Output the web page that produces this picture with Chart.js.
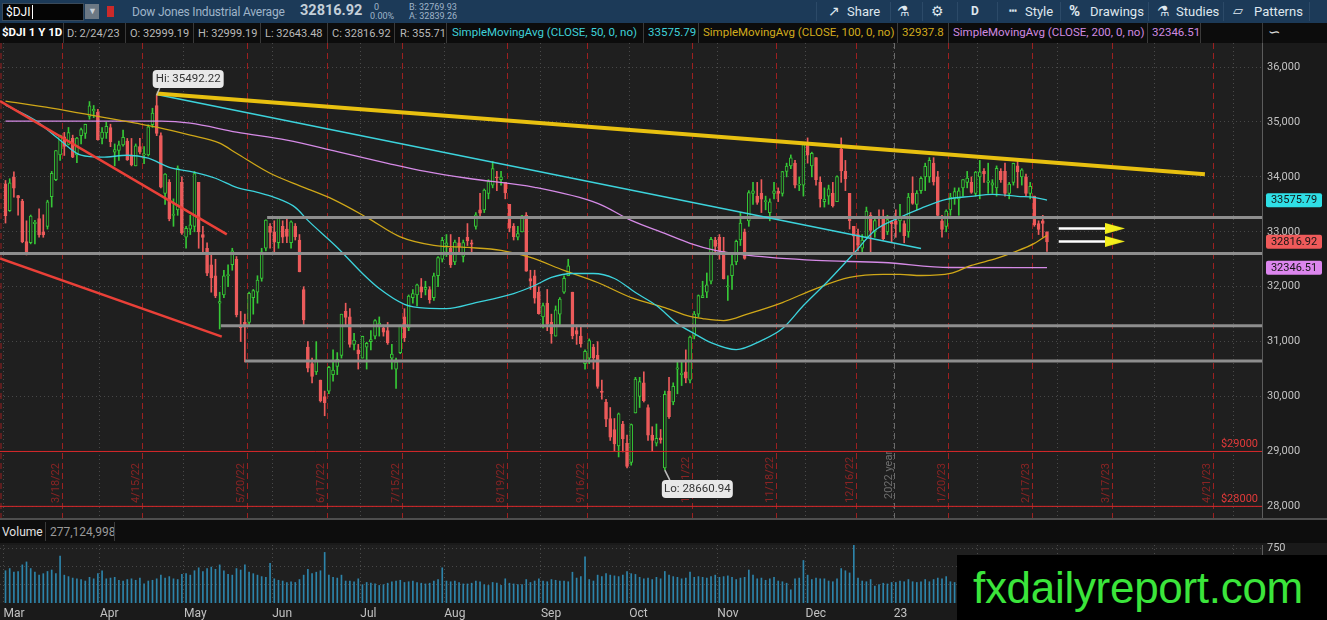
<!DOCTYPE html>
<html>
<head>
<meta charset="utf-8">
<script src="https://cdn.jsdelivr.net/npm/chart.js@4.4.1/dist/chart.umd.min.js"></script>
<style>
  body { margin: 0; background: #121212; width: 1327px; height: 620px; overflow: hidden; position: relative; font-family: Roboto, "Open Sans", sans-serif; }
  .t { position: absolute; white-space: nowrap; line-height: 1; }
  #toolbar { position: absolute; left: 0; top: 0; width: 1327px; height: 23px; background: #1c3a58; }
  #infobar { position: absolute; left: 0; top: 23px; width: 1327px; height: 20px; background: #0c0c0c; font-size: 11px; color: #b9b9b9; }
  .sep { position: absolute; top: 0; width: 1px; height: 20px; background: #3a3a3a; }
  .ma { font-size: 11.5px; }
  .tb { color: #dfe7ee; font-size: 13px; top: 5px; }
  .tsep { position: absolute; top: 2px; width: 1px; height: 19px; background: #2c4a68; }
  #priceWrap { position: absolute; left: 0; top: 43px; width: 1327px; height: 476px; }
  #paneLine { position: absolute; left: 0; top: 518px; width: 1327px; height: 2px; background: #4e4e4e; }
  #volHead { position: absolute; left: 0; top: 520px; width: 1327px; height: 23px; background: #0d0d0d; font-size: 12px; }
  #volWrap { position: absolute; left: 0; top: 543px; width: 1327px; height: 77px; }
  #wm { position: absolute; left: 957px; top: 555px; width: 370px; height: 65px; background: #000; }
  #wm span { position: absolute; left: 16px; top: 8px; color: #3be53b; font: 44px "Liberation Sans", Arial, sans-serif; letter-spacing: -0.3px; }
</style>
</head>
<body>

<div id="toolbar">
  <div class="t" style="left:2px;top:3px;width:80px;height:16px;background:#050505;border:1px solid #3a4a5a;"></div>
  <span class="t" style="left:6px;top:6px;color:#fff;font-size:12px;">$DJI<span style="border-left:1px solid #fff;margin-left:1px;"></span></span>
  <div class="t" style="left:85px;top:4px;width:14px;height:15px;background:#6c7884;"></div>
  <span class="t" style="left:88px;top:7px;color:#c8d0d8;font-size:9px;">&#9660;</span>
  <div class="t" style="left:107px;top:6px;width:7px;height:11px;background:#cc2a2a;"></div>
  <span class="t" style="left:132px;top:6px;color:#9fb4c8;font-size:12px;letter-spacing:-0.2px;">Dow Jones Industrial Average</span>
  <span class="t" style="left:300px;top:4px;color:#c4cfd9;font-size:14.5px;font-weight:bold;">32816.92</span>
  <span class="t" style="left:374px;top:3px;color:#9fb4c8;font-size:9px;">0</span>
  <span class="t" style="left:370px;top:12px;color:#9fb4c8;font-size:9px;">0.00%</span>
  <span class="t" style="left:409px;top:3px;color:#9fb4c8;font-size:9px;">B: 32769.93</span>
  <span class="t" style="left:409px;top:12px;color:#9fb4c8;font-size:9px;">A: 32839.26</span>

  <div class="tsep" style="left:816px"></div>
  <span class="t tb" style="left:828px;top:4px;font-size:14px;">&#8599;</span>
  <span class="t tb" style="left:847px;">Share</span>
  <div class="tsep" style="left:890px"></div>
  <span class="t tb" style="left:897px;top:4px;font-size:14px;">&#9879;</span>
  <div class="tsep" style="left:922px"></div>
  <span class="t tb" style="left:931px;top:4px;font-size:14px;">&#9881;</span>
  <div class="tsep" style="left:957px"></div>
  <span class="t tb" style="left:971px;font-weight:bold;font-size:12px;">D</span>
  <div class="tsep" style="left:997px"></div>
  <span class="t tb" style="left:1009px;top:4px;font-size:13px;">&#9477;</span>
  <span class="t tb" style="left:1025px;">Style</span>
  <div class="tsep" style="left:1060px"></div>
  <span class="t tb" style="left:1069px;top:4px;font-size:15px;font-weight:bold;">%</span>
  <span class="t tb" style="left:1090px;">Drawings</span>
  <div class="tsep" style="left:1148px"></div>
  <span class="t tb" style="left:1157px;top:4px;font-size:14px;">&#9879;</span>
  <span class="t tb" style="left:1176px;">Studies</span>
  <div class="tsep" style="left:1223px"></div>
  <span class="t tb" style="left:1233px;top:4px;font-size:13px;">&#9649;</span>
  <span class="t tb" style="left:1254px;">Patterns</span>
  <div class="tsep" style="left:1309px"></div>
</div>

<div id="infobar">
  <span class="t" style="left:2px;top:4px;color:#fff;font-weight:bold;font-size:11.5px;">$DJI 1 Y 1D</span>
  <div class="sep" style="left:63px"></div>
  <span class="t" style="left:67px;top:5px;">D: 2/24/23</span>
  <div class="sep" style="left:125px"></div>
  <span class="t" style="left:130px;top:5px;">O: 32999.19</span>
  <div class="sep" style="left:193px"></div>
  <span class="t" style="left:198px;top:5px;">H: 32999.19</span>
  <div class="sep" style="left:260px"></div>
  <span class="t" style="left:265px;top:5px;">L: 32643.48</span>
  <div class="sep" style="left:327px"></div>
  <span class="t" style="left:332px;top:5px;">C: 32816.92</span>
  <div class="sep" style="left:394px"></div>
  <span class="t" style="left:400px;top:5px;">R: 355.71</span>
  <div class="sep" style="left:446px"></div>
  <span class="t ma" style="left:452px;top:4px;color:#3fd0d8;">SimpleMovingAvg (CLOSE, 50, 0, no)</span>
  <div class="sep" style="left:643px"></div>
  <span class="t ma" style="left:648px;top:4px;color:#3fd0d8;">33575.79</span>
  <div class="sep" style="left:698px"></div>
  <span class="t ma" style="left:703px;top:4px;color:#d2ab1d;">SimpleMovingAvg (CLOSE, 100, 0, no)</span>
  <div class="sep" style="left:897px"></div>
  <span class="t ma" style="left:902px;top:4px;color:#d2ab1d;">32937.8</span>
  <div class="sep" style="left:948px"></div>
  <span class="t ma" style="left:953px;top:4px;color:#d08ae0;">SimpleMovingAvg (CLOSE, 200, 0, no)</span>
  <div class="sep" style="left:1147px"></div>
  <span class="t ma" style="left:1152px;top:4px;color:#d08ae0;">32346.51</span>
  <div class="sep" style="left:1200px"></div>
  <div class="sep" style="left:1262px"></div>
  <span class="t" style="left:1268px;top:2px;color:#ddd;font-size:15px;">&#8765;</span>
</div>

<div id="priceWrap"><canvas id="priceChart" width="1327" height="476"></canvas></div>
<div id="paneLine"></div>
<div id="volHead">
  <span class="t" style="left:2px;top:6px;color:#e2e2e2;">Volume</span>
  <div class="sep" style="left:45px;top:2px;height:19px;"></div>
  <span class="t" style="left:50px;top:6px;color:#9a9a9a;">277,124,998</span>
  <div class="sep" style="left:114px;top:2px;height:19px;"></div>
</div>
<div id="volWrap"><canvas id="volumeChart" width="1327" height="77"></canvas></div>
<div id="wm"><span>fxdailyreport.com</span></div>

<script>
// ---- data (daily candles, $DJI, 3/1/22 .. 2/24/23) ----
const opens = [
  33873,33386,33991,33660,33558,32820,32800,33150,33240,33000,33100,33640,33950,34400,34730,34590,34700,34400,34750,34790,35100,35200,35180,
  34700,34800,34900,34450,34480,34580,34650,34400,34200,34550,34400,34400,34950,35300,34750,33700,33900,33300,33400,33900,
  32900,33050,33100,33900,32950,32700,32400,32200,31700,31850,32200,32400,32500,31300,31350,31350,31800,31900,32150,32700,33100,
  33000,32800,33100,33050,32800,33100,32850,31950,30900,30600,30450,30300,30000,30100,30400,30550,30750,31550,31450,30950,30850,
  30700,30900,31000,31100,31300,31250,31200,30700,30500,30800,31450,31250,31800,31850,32000,31950,31950,31800,32200,32500,
  32750,32700,32450,32800,32550,32900,32800,33100,33400,33400,33700,33850,34000,33950,33900,33500,33100,32900,33000,33300,32150,32200,31900,
  31450,31700,31350,31100,31500,31900,32200,31900,31200,31100,30600,30700,30900,30750,30100,29900,29600,29400,29100,29500,29150,
  28800,29700,30000,30250,29800,29300,29150,29250,28700,30100,29900,30500,30400,30450,30300,31100,31500,31800,31900,32100,32850,
  32900,32650,32000,32200,32450,32850,33000,33200,33700,33650,33700,33550,33350,33700,33740,33700,34100,34200,34250,33850,33850,
  34600,34200,34350,33900,33550,33650,33700,33550,34500,34100,33700,33100,32950,32700,32900,33300,33000,33250,33250,33000,33180,
  33200,33200,33150,33000,33700,33500,33750,34000,34000,34250,34000,33200,33100,33400,33600,33600,33800,33900,33900,33700,
  34000,34100,33900,33850,33800,34100,34100,33700,33900,34200,34000,34000,33700,33650,33150,33200,32999
];
const highs = [
  33935,33967,34092,33665,33591,33200,33305,33210,33420,33310,33575,34100,34480,34760,34810,34900,34760,34720,34890,34960,35372,35300,35230,
  34900,35000,34960,34600,34650,34850,34700,34700,34600,34700,34550,34950,35250,35492,34800,34060,33950,33600,34200,34000,
  33100,33300,34100,33900,33100,32800,32600,32500,31900,32300,32400,32700,32550,31550,31500,31900,31950,32200,32700,33220,33150,
  33200,33260,33200,33270,33200,33150,32950,32000,31000,30700,31000,30300,30100,30550,30850,30800,31500,31700,31600,31150,30950,
  31100,30990,31200,31400,31450,31300,31350,30950,30700,31300,31600,31850,31950,32050,32150,32100,32000,32250,32550,32900,
  32950,32950,32850,32900,32850,33150,32850,33350,33700,33780,33950,34280,34100,34100,33900,33500,33150,33100,33300,33350,32300,32300,32000,
  31700,31950,31500,31650,31800,32200,32500,31900,31300,31300,30850,31050,30950,31000,30300,29950,29800,29600,29700,29550,29300,
  29500,30350,30350,30450,29850,29450,29500,29400,30100,30350,30250,30650,30650,30850,31100,31550,31850,32100,32250,32900,32900,
  32950,32900,32200,32600,32850,33350,33050,33750,33900,33900,33950,33650,33600,33900,33800,34100,34250,34400,34300,34000,34600,
  34710,34450,34350,34000,33800,33850,33900,34020,34710,34300,33700,33100,33050,32950,33450,33350,33250,33400,33400,33300,33200,
  33400,33500,33200,33700,34000,33750,34000,34250,34350,34350,34100,33300,33400,33700,33800,33800,33950,34100,34000,34100,
  34300,34150,34250,33950,34200,34150,34250,33900,34250,34300,34150,34050,33900,33650,33200,33300,32999
];
const lows = [
  33159,33370,33632,33304,32800,32578,32780,32780,32900,32900,33050,33450,33930,34300,34390,34580,34350,34260,34600,34700,35050,35080,34670,
  34600,34700,34550,34200,34300,34560,34300,34200,34200,34420,34240,34380,34900,34750,33800,33500,33200,33100,33300,32950,
  32700,32950,33000,32700,32600,32200,31900,31800,31230,31800,32000,32300,31450,31000,30630,31300,31500,31700,32100,32650,32700,
  32600,32700,32800,32800,32700,32850,32270,31300,30450,30250,30400,29900,29650,30050,30280,30400,30700,31300,30900,30850,30500,
  30700,30500,30850,31050,31100,31100,30950,30500,30150,30780,31000,31200,31700,31650,31800,31850,31700,31750,32000,32450,
  32550,32350,32400,32600,32450,32750,32600,33050,33250,33350,33600,33800,33750,33850,33600,33000,32850,32850,33000,32280,31950,31700,31500,
  31250,31200,30970,31100,31300,31880,32200,31050,30950,30900,30500,30600,30500,30150,29950,29450,29200,29000,28900,28990,28700,
  28750,29700,29800,29900,29200,29000,29100,29150,28661,29600,29850,30050,30200,30250,30250,31050,31450,31800,31800,32050,32600,
  32500,32140,31750,31950,32400,32750,32500,33100,33500,33500,33350,33400,33200,33600,33550,33650,34000,34150,33800,33750,33650,
  34250,34000,33850,33450,33450,33500,33450,33550,33900,33750,33050,32600,32650,32600,32900,32600,32900,33100,32850,32950,32800,
  32900,33000,32800,32900,33500,33400,33700,33750,33900,33850,33250,32900,33000,33300,33500,33300,33650,33800,33700,33650,
  33600,33900,33700,33700,33650,33900,33650,33600,33850,33800,33850,33650,33600,33100,32950,32900,32643
];
const closes = [
  33294,33891,33795,33615,32818,32632,33286,33174,32944,32945,33545,34063,34481,34755,34553,34808,34358,34708,34862,34955,35294,35229,34678,
  34818,34922,34641,34497,34583,34721,34309,34220,34565,34452,34412,34911,35161,34793,33811,34049,33240,33302,34160,32977,
  33061,33129,34061,32998,32899,32246,32160,31834,31730,32197,32223,32655,31490,31253,31262,31880,31929,32120,32637,33213,32990,
  32813,33248,32900,32916,33180,32910,32273,31393,30517,30365,30669,29927,29889,30530,30484,30677,31501,31439,30947,31029,30775,
  31097,30968,31038,31385,31338,31173,30981,30773,30630,31289,31073,31828,31875,32036,31899,31990,31762,32198,32530,32845,
  32798,32397,32813,32727,32803,32833,32775,33310,33337,33761,33913,34153,33981,33999,33707,33064,32910,32969,33292,32283,32099,31791,31510,
  31656,31318,31145,31581,31775,32152,32381,31105,31135,30962,30822,31020,30706,30184,30077,29590,29260,29135,29684,29226,28726,
  29491,30317,30274,29927,29297,29203,29240,29211,30039,29635,30186,30524,30424,30334,31083,31500,31837,31839,32034,32862,32733,
  32653,32148,32001,32403,32827,33161,32514,33716,33748,33537,33593,33554,33547,33746,33700,34098,34195,34347,33850,33853,34590,
  34395,34430,33947,33597,33598,33781,33476,34005,34109,33966,33203,32920,32758,32850,33377,33027,33204,33242,32876,33221,33147,
  33136,33270,32930,33631,33518,33704,33974,34190,34303,33910,33297,33045,33375,33630,33734,33744,33950,33978,33717,34086,
  34093,34054,33926,33891,34156,33949,33699,33869,34246,34089,34128,33697,33827,33130,33045,33154,32817
];
// volume, millions of shares
const volumes = [
  440,470,420,430,520,560,470,420,380,400,430,450,400,640,380,360,340,330,320,300,350,330,400,
  440,330,340,350,310,300,320,330,310,340,260,300,310,330,380,340,360,330,320,390,
  400,380,440,480,430,470,490,460,520,440,390,380,470,450,520,420,400,380,360,350,540,
  330,310,300,280,290,280,320,380,460,400,420,440,690,380,350,340,380,300,300,290,330,
  250,280,270,260,240,250,270,290,300,310,280,290,300,280,270,260,270,300,320,480,
  300,290,300,280,260,260,270,300,290,250,240,280,270,240,330,270,260,250,250,320,280,300,330,
  300,290,320,310,300,300,290,420,340,360,630,320,300,380,360,400,380,370,360,380,430,
  400,390,350,330,340,320,350,330,430,380,360,350,330,340,420,350,360,350,340,360,380,
  350,360,370,350,320,340,350,450,380,330,340,310,330,350,300,290,270,180,330,340,580,
  380,320,340,330,330,300,290,330,470,440,410,800,340,300,290,320,230,250,270,260,280,
  280,300,290,320,290,280,290,320,290,320,340,330,360,290,280,300,300,290,300,360,
  340,330,320,290,300,290,300,280,290,300,290,310,330,300,280,270,277
];

// moving averages: session index -> value
const sma50Idx = [0,7,13,18,23,29,34,39,45,50,55,60,64,69,72,79,85,89,95,100,105,112,121,126,130,135,140,145,150,155,160,164,168,174,180,185,190,196,202,207,213,218,224,230,235,241,245,248];
const sma50 = [35307,35033,34668,34394,34358,34394,34340,34175,34084,33975,33810,33719,33628,33445,33208,32715,32241,31967,31680,31610,31602,31711,31876,32022,32168,32241,32241,32150,31894,31657,31328,31146,30982,30854,31018,31237,31657,32113,32606,33025,33263,33427,33591,33646,33682,33646,33628,33576];
const sma100Idx = [0,11,23,31,36,44,51,55,63,71,78,86,94,102,110,118,125,133,141,149,157,163,166,171,177,185,193,201,209,213,218,225,230,236,240,245,248];
const sma100 = [35380,35252,35088,34978,34905,34759,34613,34430,34066,33810,33590,33263,32907,32752,32715,32661,32533,32296,32077,31803,31620,31460,31420,31383,31511,31712,31967,32168,32223,32223,32204,32241,32387,32514,32624,32788,32938];
const sma200Idx = [0,37,44,55,67,79,91,100,110,126,141,149,157,163,169,177,193,209,225,248];
const sma200 = [35015,35015,34978,34814,34668,34460,34248,34100,33975,33810,33518,33208,32970,32790,32661,32569,32478,32441,32350,32347];

// drawn lines: [startIdx, startPrice, endIdx, endPrice]
const goldTrend = [36, 35520, 285.6, 34047];
const cyanTrend = [36, 35500, 218, 32697];
const redTrendUpper = [-1.31, 35380, 52.7, 32953];
const redTrendLower = [-1.31, 32515, 51.5, 31091];
// horizontal levels: [startIdx, price]
const grayLevels = [[62.3, 33260], [-1.31, 32603], [51.3, 31288], [57, 30648]];
const redLevels = [29000, 28000];
const arrowLevels = [33062, 32825];
const arrowSpan = [250.8, 262.3, 264.2];

const priceTicks = [28000, 29000, 30000, 31000, 32000, 33000, 34000, 35000, 36000];
const volumeTicks = [250, 500, 750];
const expiryLabels = ['3/18/22','4/15/22','5/20/22','6/17/22','7/15/22','8/19/22','9/16/22','10/21/22','11/18/22','12/16/22','1/20/23','2/17/23','3/17/23','4/21/23'];
const monthStarts = ['2022-03-01','2022-04-01','2022-05-01','2022-06-01','2022-07-01','2022-08-01','2022-09-01','2022-10-01','2022-11-01','2022-12-01','2023-01-01','2023-02-01','2023-03-01','2023-04-01','2023-05-01'];
const monthLabels = ['Mar','Apr','May','Jun','Jul','Aug','Sep','Oct','Nov','Dec','23','Feb','Mar','Apr','May'];
const tags = [
  { value: 33575.79, text: '33575.79', bg: '#2fdfe6' },
  { value: 32816.92, text: '32816.92', bg: '#ef5a5a' },
  { value: 32346.51, text: '32346.51', bg: '#dc86ee' }
];

// ---- trading calendar ----
const holidays = ['2022-04-15','2022-05-30','2022-06-20','2022-07-04','2022-09-05','2022-11-24','2022-12-26','2023-01-02','2023-01-16','2023-02-20','2023-04-07','2023-05-29'];
function buildSessions(n) {
  const out = [];
  const d = new Date(Date.UTC(2022, 2, 1));
  while (out.length < n) {
    const wd = d.getUTCDay();
    const iso = d.toISOString().slice(0, 10);
    if (wd !== 0 && wd !== 6 && !holidays.includes(iso)) out.push(iso);
    d.setUTCDate(d.getUTCDate() + 1);
  }
  return out;
}
const sessions = buildSessions(320);
function toIso(s) {
  const [m, d, y] = s.split('/');
  return '20' + y + '-' + m.padStart(2, '0') + '-' + d.padStart(2, '0');
}
function lastSessionOnOrBefore(iso) {
  let k = -1;
  for (let i = 0; i < sessions.length && sessions[i] <= iso; i++) k = i;
  return k;
}
const expiryX = expiryLabels.map(s => lastSessionOnOrBefore(toIso(s)) + 0.5);
const monthX = monthStarts.map(iso => sessions.findIndex(s => s >= iso) - 0.5);
const yearX = sessions.findIndex(s => s >= '2023-01-01') - 0.5;

const X_MIN = -1.31, X_MAX = 299.2;
const UP = '#36c836', DOWN = '#ec5b5b', PANE = '#1f1f1f';

Chart.defaults.font.family = 'Roboto, "Open Sans", sans-serif';
Chart.defaults.color = '#bdbdbd';

const seg = (a) => [{ x: a[0], y: a[1] }, { x: a[2], y: a[3] }];
const ma = (xs, ys) => xs.map((x, i) => ({ x: x, y: ys[i] }));
const line = (data, color, width, order) => ({
  type: 'line', data: data, borderColor: color, borderWidth: width, pointRadius: 0,
  fill: false, order: order, tension: 0
});

function arrowHead() {
  const c = document.createElement('canvas');
  c.width = 20; c.height = 11;
  const g = c.getContext('2d');
  g.fillStyle = '#f4ef1c';
  g.beginPath(); g.moveTo(0, 0); g.lineTo(20, 5.5); g.lineTo(0, 11); g.closePath(); g.fill();
  return c;
}
const head = arrowHead();

const datasets = [];
arrowLevels.forEach(p => {
  datasets.push({ type: 'line', data: [{ x: arrowSpan[2], y: p }], showLine: false, pointStyle: head, pointRadius: 8, order: 0 });
  datasets.push(line([{ x: arrowSpan[0], y: p }, { x: arrowSpan[1], y: p }], '#ffffff', 2.5, 1));
});
datasets.push(line(seg(goldTrend), '#e8c010', 4, 2));
datasets.push(line(seg(cyanTrend), '#3cd3dc', 1.5, 2));
datasets.push(line(seg(redTrendUpper), '#ea4038', 2.5, 2));
datasets.push(line(seg(redTrendLower), '#ea4038', 2.5, 2));
grayLevels.forEach(l => datasets.push(line([{ x: l[0], y: l[1] }, { x: X_MAX, y: l[1] }], '#8e8e8e', 3, 3)));
redLevels.forEach(p => datasets.push(line([{ x: X_MIN, y: p }, { x: X_MAX, y: p }], '#d8282a', 1, 3)));
[[sma50Idx, sma50, '#3cd3dc'], [sma100Idx, sma100, '#cfa718'], [sma200Idx, sma200, '#d58ae6']].forEach(m => {
  const d = line(ma(m[0], m[1]), m[2], 1.3, 4);
  d.tension = 0.4; d.cubicInterpolationMode = 'monotone';
  datasets.push(d);
});
const isUp = closes.map((c, i) => c >= opens[i]);
datasets.push({
  type: 'bar', order: 5, grouped: false, barThickness: 3, minBarLength: 1, borderSkipped: false,
  data: closes.map((c, i) => ({ x: i, y: [Math.min(opens[i], c), Math.max(opens[i], c)] })),
  backgroundColor: isUp.map(u => u ? PANE : DOWN),
  borderColor: isUp.map(u => u ? UP : DOWN),
  borderWidth: 1
});
datasets.push({
  type: 'bar', order: 6, grouped: false, barThickness: 1, borderSkipped: false,
  data: closes.map((c, i) => ({ x: i, y: [lows[i], highs[i]] })),
  backgroundColor: isUp.map(u => u ? UP : DOWN)
});

function roundRect(ctx, x, y, w, h, r) {
  ctx.beginPath();
  ctx.moveTo(x + r, y); ctx.lineTo(x + w - r, y); ctx.quadraticCurveTo(x + w, y, x + w, y + r);
  ctx.lineTo(x + w, y + h - r); ctx.quadraticCurveTo(x + w, y + h, x + w - r, y + h);
  ctx.lineTo(x + r, y + h); ctx.quadraticCurveTo(x, y + h, x, y + h - r);
  ctx.lineTo(x, y + r); ctx.quadraticCurveTo(x, y, x + r, y);
  ctx.closePath();
}

function vLabel(ctx, text, x, bottom, color) {
  ctx.save();
  ctx.translate(x, bottom);
  ctx.rotate(-Math.PI / 2);
  ctx.fillStyle = color;
  ctx.font = '11px Roboto, sans-serif';
  ctx.textAlign = 'left';
  ctx.textBaseline = 'alphabetic';
  ctx.fillText(text, 0, 0);
  ctx.restore();
}

const pricePlugin = {
  id: 'priceOverlay',
  beforeDraw(chart) {
    const { ctx, chartArea: a } = chart;
    ctx.save();
    ctx.fillStyle = '#1a1a1a';
    ctx.fillRect(0, 0, chart.width, chart.height);
    ctx.fillStyle = PANE;
    ctx.fillRect(a.left, a.top, a.right - a.left, a.bottom - a.top);
    ctx.restore();
  },
  beforeDatasetsDraw(chart) {
    const { ctx, chartArea: a, scales: { x } } = chart;
    ctx.save();
    ctx.lineWidth = 1;
    ctx.setLineDash([6, 4]);
    ctx.strokeStyle = '#9c2020';
    const edges = [1].concat(expiryX.map(v => Math.round(x.getPixelForValue(v)) + 0.5));
    edges.forEach(px => { ctx.beginPath(); ctx.moveTo(px, a.top); ctx.lineTo(px, a.bottom); ctx.stroke(); });
    const yx = Math.round(x.getPixelForValue(yearX)) + 0.5;
    ctx.strokeStyle = '#6a6a6a';
    ctx.beginPath(); ctx.moveTo(yx, a.top); ctx.lineTo(yx, a.bottom); ctx.stroke();
    ctx.restore();
    expiryX.forEach((v, i) => vLabel(ctx, expiryLabels[i], x.getPixelForValue(v) - 3, a.bottom - 16, '#8a2424'));
    vLabel(ctx, '2022 year', yx - 3, a.bottom - 20, '#6e6e6e');
  },
  afterDatasetsDraw(chart) {
    const { ctx, chartArea: a, scales: { x, y } } = chart;
    ctx.save();
    // level captions
    ctx.font = '11px Roboto, sans-serif';
    ctx.fillStyle = '#e23a3a';
    ctx.textAlign = 'right';
    ctx.textBaseline = 'bottom';
    redLevels.forEach(p => ctx.fillText('$' + p, a.right - 4, y.getPixelForValue(p) - 2));
    // Hi / Lo callouts
    let hi = 0, lo = 0;
    highs.forEach((h, i) => { if (h > highs[hi]) hi = i; });
    lows.forEach((l, i) => { if (l < lows[lo]) lo = i; });
    const callout = (idx, val, text, dx, dy, tailTo) => {
      const px = x.getPixelForValue(idx), py = y.getPixelForValue(val);
      const bx = px + dx, by = py + dy;
      ctx.strokeStyle = '#bcbcbc';
      ctx.lineWidth = 1.5;
      ctx.beginPath(); ctx.moveTo(px, py); ctx.lineTo(bx + tailTo, by + (dy < 0 ? 18 : 0)); ctx.stroke();
      ctx.fillStyle = '#e8e8e8';
      roundRect(ctx, bx, by, 71, 18, 4); ctx.fill();
      ctx.fillStyle = '#333';
      ctx.font = '11.5px Roboto, sans-serif';
      ctx.textAlign = 'center';
      ctx.textBaseline = 'middle';
      ctx.fillText(text, bx + 35.5, by + 9.5);
    };
    callout(hi, highs[hi], 'Hi: 35492.22', -4, -25, 7);
    callout(lo, lows[lo], 'Lo: 28660.94', -3, 10, 8);
    ctx.restore();
  },
  afterDraw(chart) {
    const { ctx, scales: { y } } = chart;
    ctx.save();
    ctx.font = '11px Roboto, sans-serif';
    ctx.textAlign = 'center';
    ctx.textBaseline = 'middle';
    tags.forEach(t => {
      const py = y.getPixelForValue(t.value);
      ctx.fillStyle = t.bg;
      roundRect(ctx, 1266, py - 7, 56, 14, 2); ctx.fill();
      ctx.fillStyle = '#151515';
      ctx.fillText(t.text, 1294, py + 0.5);
    });
    ctx.restore();
  }
};

new Chart(document.getElementById('priceChart'), {
  type: 'bar',
  data: { datasets: datasets },
  options: {
    responsive: false, animation: false, events: [],
    layout: { padding: 0, autoPadding: false },
    plugins: { legend: { display: false }, tooltip: { enabled: false } },
    scales: {
      x: {
        type: 'linear', min: X_MIN, max: X_MAX, offset: false,
        grid: { color: '#4a4a4a', drawTicks: false, offset: false },
        border: { display: false, dash: [1, 3] },
        ticks: { display: false },
        afterBuildTicks: s => { s.ticks = monthX.map(v => ({ value: v })); },
        afterFit: s => { s.height = 0; s.paddingLeft = 0; s.paddingRight = 0; }
      },
      y: {
        position: 'right', min: 27770, max: 36438,
        grid: { color: '#474747', drawTicks: false },
        border: { display: true, color: '#5c5c5c', dash: [1, 3] },
        ticks: { color: '#c2c2c2', font: { size: 11 }, padding: 5 },
        afterBuildTicks: s => { s.ticks = priceTicks.map(v => ({ value: v })); },
        afterFit: s => { s.width = 65; s.paddingTop = 0; s.paddingBottom = 0; }
      }
    }
  },
  plugins: [pricePlugin]
});

const volumePlugin = {
  id: 'volumeBg',
  beforeDraw(chart) {
    const { ctx, chartArea: a } = chart;
    ctx.save();
    ctx.fillStyle = '#1a1a1a';
    ctx.fillRect(0, 0, chart.width, chart.height);
    ctx.fillStyle = PANE;
    ctx.fillRect(a.left, a.top, a.right - a.left, a.bottom - a.top);
    ctx.restore();
  }
};

new Chart(document.getElementById('volumeChart'), {
  type: 'bar',
  data: {
    datasets: [{
      data: volumes.map((v, i) => ({ x: i, y: v })),
      backgroundColor: '#2d84aa', barThickness: 1, grouped: false
    }]
  },
  options: {
    responsive: false, animation: false, events: [],
    layout: { padding: { top: 2 }, autoPadding: false },
    plugins: { legend: { display: false }, tooltip: { enabled: false } },
    scales: {
      x: {
        type: 'linear', min: X_MIN, max: X_MAX, offset: false,
        grid: { color: '#4a4a4a', drawTicks: false, offset: false },
        border: { display: false, dash: [1, 3] },
        ticks: {
          color: '#c2c2c2', font: { size: 12 }, padding: 4, align: 'start',
          autoSkip: false, maxRotation: 0,
          callback: (v, i) => monthLabels[i]
        },
        afterBuildTicks: s => { s.ticks = monthX.map(v => ({ value: v })); },
        afterFit: s => { s.height = 17; s.paddingLeft = 0; s.paddingRight = 0; }
      },
      y: {
        position: 'right', min: 0, max: 791,
        grid: { color: '#474747', drawTicks: false },
        border: { display: true, color: '#5c5c5c', dash: [1, 3] },
        ticks: { color: '#c2c2c2', font: { size: 11 }, padding: 5 },
        afterBuildTicks: s => { s.ticks = volumeTicks.map(v => ({ value: v })); },
        afterFit: s => { s.width = 65; s.paddingTop = 0; s.paddingBottom = 0; }
      }
    }
  },
  plugins: [volumePlugin]
});
</script>
</body>
</html>
